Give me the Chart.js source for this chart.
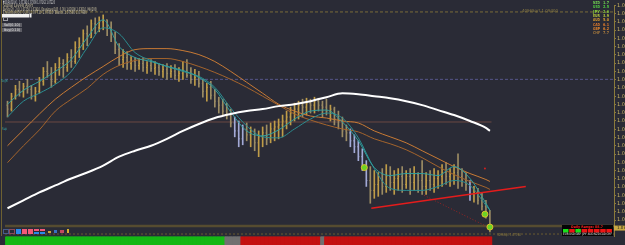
<!DOCTYPE html>
<html>
<head>
<meta charset="utf-8">
<script src="https://cdn.jsdelivr.net/npm/chart.js@4.4.0/dist/chart.umd.min.js"></script>
<style>
html,body{margin:0;padding:0;background:#2a2b36;}
canvas{display:block;}
</style>
</head>
<body>
<canvas id="myChart" width="625" height="245"></canvas>
<script>

// price bars (H1), one entry per bar
var highs = [
  1.0850,1.0858,1.0866,1.0870,1.0868,1.0872,1.0866,1.0864,1.0874,1.0884,
  1.0890,1.0884,1.0888,1.0894,1.0892,1.0898,1.0902,1.0910,1.0914,1.0922,
  1.0926,1.0932,1.0934,1.0935,1.0937,1.0932,1.0930,1.0920,1.0908,1.0902,
  1.0900,1.0895,1.0894,1.0893,1.0894,1.0890,1.0892,1.0890,1.0888,1.0887,
  1.0888,1.0886,1.0887,1.0884,1.0890,1.0892,1.0884,1.0882,1.0880,1.0872,
  1.0868,1.0870,1.0862,1.0854,1.0852,1.0848,1.0842,1.0834,1.0830,1.0826,
  1.0828,1.0824,1.0822,1.0820,1.0824,1.0826,1.0828,1.0830,1.0832,1.0836,
  1.0840,1.0844,1.0848,1.0850,1.0852,1.0853,1.0852,1.0854,1.0853,1.0850,
  1.0852,1.0846,1.0844,1.0840,1.0834,1.0826,1.0822,1.0816,1.0810,1.0802,
  1.0790,1.0784,1.0780,1.0778,1.0782,1.0786,1.0784,1.0780,1.0782,1.0784,
  1.0780,1.0782,1.0784,1.0778,1.0790,1.0778,1.0780,1.0782,1.0780,1.0786,
  1.0788,1.0782,1.0786,1.0797,1.0782,1.0778,1.0770,1.0764,1.0762,1.0758,
  1.0750,1.0740
];
var lows = [
  1.0834,1.0840,1.0852,1.0855,1.0854,1.0858,1.0852,1.0850,1.0858,1.0866,
  1.0874,1.0864,1.0868,1.0876,1.0874,1.0880,1.0884,1.0888,1.0894,1.0902,
  1.0906,1.0914,1.0918,1.0920,1.0922,1.0916,1.0910,1.0898,1.0886,1.0884,
  1.0882,1.0882,1.0880,1.0882,1.0880,1.0878,1.0880,1.0877,1.0876,1.0874,
  1.0872,1.0874,1.0872,1.0870,1.0872,1.0874,1.0868,1.0866,1.0864,1.0854,
  1.0850,1.0852,1.0844,1.0838,1.0836,1.0832,1.0824,1.0814,1.0804,1.0806,
  1.0810,1.0804,1.0800,1.0794,1.0804,1.0806,1.0808,1.0810,1.0812,1.0814,
  1.0822,1.0826,1.0830,1.0832,1.0834,1.0836,1.0838,1.0838,1.0840,1.0834,
  1.0836,1.0830,1.0826,1.0822,1.0814,1.0810,1.0804,1.0798,1.0790,1.0780,
  1.0764,1.0747,1.0752,1.0754,1.0756,1.0758,1.0760,1.0756,1.0760,1.0758,
  1.0762,1.0756,1.0760,1.0758,1.0756,1.0756,1.0760,1.0758,1.0762,1.0764,
  1.0766,1.0764,1.0766,1.0762,1.0764,1.0760,1.0750,1.0748,1.0746,1.0740,
  1.0732,1.0718
];
var closes = [
  1.0842,1.0855,1.0862,1.0860,1.0865,1.0862,1.0855,1.0860,1.0870,1.0880,
  1.0878,1.0870,1.0884,1.0888,1.0884,1.0894,1.0890,1.0904,1.0908,1.0918,
  1.0914,1.0928,1.0924,1.0930,1.0932,1.0924,1.0914,1.0902,1.0892,1.0894,
  1.0888,1.0890,1.0886,1.0888,1.0884,1.0886,1.0883,1.0884,1.0880,1.0882,
  1.0878,1.0880,1.0876,1.0878,1.0880,1.0876,1.0872,1.0874,1.0868,1.0860,
  1.0864,1.0856,1.0850,1.0846,1.0840,1.0836,1.0828,1.0820,1.0812,1.0822,
  1.0816,1.0820,1.0808,1.0814,1.0818,1.0812,1.0822,1.0824,1.0826,1.0830,
  1.0834,1.0838,1.0842,1.0846,1.0844,1.0848,1.0846,1.0850,1.0846,1.0844,
  1.0840,1.0842,1.0832,1.0830,1.0820,1.0818,1.0810,1.0804,1.0794,1.0784,
  1.0770,1.0760,1.0766,1.0770,1.0764,1.0774,1.0768,1.0772,1.0774,1.0766,
  1.0774,1.0768,1.0776,1.0770,1.0764,1.0770,1.0766,1.0772,1.0774,1.0778,
  1.0774,1.0776,1.0778,1.0774,1.0770,1.0766,1.0756,1.0758,1.0750,1.0744,
  1.0736,1.0722
];
var firstOpen = 1.0846;
var blueBars = [57,58,59,86,87,88,89,90,116];

// indicator lines, read at every 4th bar
var sampleBars = [0,4,8,12,16,20,24,28,32,36,40,44,48,52,56,60,64,68,72,76,80,84,88,92,96,100,104,108,112,116,120,121];
var ma200 = [1.0742,1.0750,1.0758,1.0765,1.0772,1.0778,1.0785,1.0794,1.0800,1.0805,1.0812,1.0820,1.0827,1.0833,1.0837,1.0840,
             1.0842,1.0845,1.0847,1.0850,1.0854,1.0858,1.0857,1.0855,1.0853,1.0850,1.0846,1.0841,1.0836,1.0830,1.0823,1.0820];
var envUpper = [1.0805,1.0821,1.0837,1.0852,1.0864,1.0875,1.0885,1.0895,1.0902,1.0903,1.0903,1.0901,1.0897,1.0890,1.0880,1.0869,
                1.0858,1.0847,1.0840,1.0835,1.0833,1.0830,1.0828,1.0820,1.0814,1.0808,1.0800,1.0792,1.0784,1.0777,1.0771,1.0769];
var envLower = [1.0788,1.0805,1.0821,1.0840,1.0852,1.0863,1.0877,1.0886,1.0891,1.0893,1.0893,1.0890,1.0885,1.0879,1.0872,1.0864,
                1.0855,1.0846,1.0837,1.0831,1.0826,1.0822,1.0819,1.0812,1.0807,1.0801,1.0793,1.0784,1.0776,1.0769,1.0763,1.0761];
var tealFast = [1.0847,1.0861,1.0870,1.0880,1.0892,1.0914,1.0932,1.0905,1.0894,1.0890,1.0885,1.0881,1.0874,1.0862,1.0839,1.0820,
                1.0815,1.0821,1.0832,1.0840,1.0841,1.0829,1.0810,1.0783,1.0775,1.0777,1.0777,1.0775,1.0784,1.0772,1.0747,1.0740];
var tealSlow = [1.0834,1.0850,1.0858,1.0867,1.0880,1.0904,1.0924,1.0918,1.0899,1.0891,1.0885,1.0880,1.0875,1.0864,1.0843,1.0825,
                1.0814,1.0813,1.0822,1.0832,1.0838,1.0833,1.0813,1.0782,1.0762,1.0760,1.0760,1.0764,1.0770,1.0765,1.0745,1.0740];

// horizontal levels and drawn objects
var levelTop = 1.0940, levelPivot = 1.0872, levelMid = 1.0829, levelLow = 1.0724, levelBottom = 1.0716;
var trendBars = [91.25, 130];
var trendPrices = [1.0742, 1.0764];
var dotBars = [104.5, 120.5];
var dotPrices = [1.0755, 1.0723];
var signalBars = [89.5, 119.75, 121];
var signalPrices = [1.0783, 1.0736, 1.0723];

// trend strip under the chart: 1 up, 0 flat, -1 down
var stripState = [
  1,1,1,1,1,1,1,1,1,1, 1,1,1,1,1,1,1,1,1,1, 1,1,1,1,1,1,1,1,1,1,
  1,1,1,1,1,1,1,1,1,1, 1,1,1,1,1,1,1,1,1,1, 1,1,1,1,1,
  0,0,0,0,
  -1,-1,-1,-1,-1,-1,-1,-1,-1,-1, -1,-1,-1,-1,-1,-1,-1,-1,-1,-1,
  0,
  -1,-1,-1,-1,-1,-1,-1,-1,-1,-1, -1,-1,-1,-1,-1,-1,-1,-1,-1,-1,
  -1,-1,-1,-1,-1,-1,-1,-1,-1,-1, -1,-1,-1,-1,-1,-1,-1,-1,-1,-1, -1,-1
];

var tickValues = [1.09466,1.09383,1.09300,1.09216,1.09133,1.09050,1.08966,1.08883,1.08800,1.08716,
                  1.08633,1.08550,1.08466,1.08383,1.08300,1.08216,1.08133,1.08050,1.07966,1.07883,
                  1.07800,1.07716,1.07633,1.07550,1.07466,1.07383,1.07300,1.07216];

var strengthNames = ["NZD","USD","JPY","EUR","AUD","CAD","GBP","CHF"];
var strengthValues = [1.7, 2.5, 2.6, 3.9, 5.0, 6.1, 6.2, 7.7];
var strengthColors = ["#6fcf52","#52d040","#8ccf3c","#b4c43a","#d79a30","#e07a2a","#e0832c","#a87a3c"];
var cellNames = ["EUR","USD","GBP","JPY","AUD","NZD","CAD","CHF"];
var cellUp = [1,0,1,0,0,0,0,0];

var opens = [firstOpen].concat(closes.slice(0, -1));
var barColors = closes.map(function(c, i){
  if (blueBars.indexOf(i) >= 0) return "#a3aad6";
  return c >= opens[i] ? "#bf9c48" : "#9c8c64";
});

function pts(xs, ys){ return xs.map(function(x, k){ return {x: x, y: ys[k]}; }); }
function flatLine(v, x0, x1){ return [{x: x0, y: v}, {x: x1, y: v}]; }

var XMIN = -0.625, XMAX = 152.125;

function lineDs(data, color, width, order, dash){
  return {type: "line", data: data, borderColor: color, borderWidth: width, pointRadius: 0,
          cubicInterpolationMode: "monotone", borderDash: dash || [], order: order, yAxisID: "y"};
}

var decor = {
  id: "decor",
  beforeDraw: function(chart){
    var ctx = chart.ctx;
    ctx.save();
    ctx.fillStyle = "#2a2b36";
    ctx.fillRect(0, 0, chart.width, chart.height);
    ctx.restore();
  },
  afterDraw: function(chart){
    var ctx = chart.ctx, ys = chart.scales.y;
    ctx.save();
    // left border
    ctx.strokeStyle = "#6e6132";
    ctx.lineWidth = 1;
    ctx.beginPath(); ctx.moveTo(1.5, 0); ctx.lineTo(1.5, 236); ctx.stroke();

    ctx.textBaseline = "middle";
    // header text
    ctx.font = "5px 'DejaVu Sans'";
    ctx.fillStyle = "#d8d8d8";
    ctx.fillText("\u25bc EURUSD,H1  1.07290 1.07308 1.07162 1.07220", 3, 2.5, 52);
    ctx.fillStyle = "#cfc6a4";
    ctx.fillText("Signal Levels Alert", 3, 6, 30);
    ctx.fillText("Bands(20, 2.0) 1.07750 1.07410  Envelopes(100, 0.30) 1.07690 1.07610  MA(200)", 3, 9.5, 94);
    ctx.fillText("Envelopes(50, 0.20) 1.07710 1.07410  Bands 1.07580 1.07440", 3, 13, 84);

    // trade box and buttons
    ctx.fillStyle = "#f2f2f2";
    ctx.fillRect(2, 14, 27, 3.5);
    ctx.fillRect(29.5, 13.5, 2, 4);
    ctx.strokeStyle = "#9a9aa0";
    ctx.strokeRect(3.5, 17.5, 4, 3);
    ctx.fillStyle = "#5c5c64";
    ctx.fillRect(2, 23, 20, 4);
    ctx.fillRect(2, 28, 20, 4);
    ctx.fillStyle = "#e8e8e8";
    ctx.font = "3.5px 'DejaVu Sans'";
    ctx.textAlign = "center";
    ctx.fillText("Sell(0.10)", 12, 25, 16);
    ctx.fillText("Buy(0.10)", 12, 30, 16);
    ctx.textAlign = "left";

    // currency strength list
    ctx.font = "bold 4px 'DejaVu Sans'";
    strengthNames.forEach(function(n, k){
      var y = 3 + k * 4.3;
      ctx.fillStyle = strengthColors[k];
      ctx.fillText(n, 593, y, 7);
      ctx.fillText(strengthValues[k].toFixed(1), 603, y, 6);
    });

    // level captions
    ctx.font = "4px 'DejaVu Sans'";
    ctx.fillStyle = "#8c7c44";
    ctx.fillText("4096Sqrt 1.09400", 522, ys.getPixelForValue(levelTop) - 0.5, 36);
    ctx.fillText("4096Sqrt 1.07160", 497, ys.getPixelForValue(levelBottom) + 0.5, 24);
    ctx.fillStyle = "#3aa3a3";
    ctx.fillText("Target", 1, ys.getPixelForValue(levelPivot) + 2, 7);
    ctx.fillText("Sup", 2, ys.getPixelForValue(levelMid) + 7, 5);

    // tool icons
    ctx.lineWidth = 1;
    ctx.strokeStyle = "#4a5a8a"; ctx.strokeRect(3.5, 229.5, 5, 4);
    ctx.strokeStyle = "#8a4a5a"; ctx.strokeRect(9.5, 229.5, 5, 4);
    ctx.fillStyle = "#2a8ae8"; ctx.fillRect(16, 229, 5, 5);
    ctx.fillStyle = "#f25a78"; ctx.fillRect(22, 229, 5, 5); ctx.fillRect(28, 229, 5, 5);
    ctx.fillRect(34, 229, 5, 2); ctx.fillRect(40, 229, 5, 2);
    ctx.fillStyle = "#2a8ae8"; ctx.fillRect(34, 232, 5, 2); ctx.fillRect(40, 232, 5, 2);
    ctx.fillStyle = "#c8a040"; ctx.fillRect(48, 231, 3, 2);
    ctx.fillStyle = "#3a70c0"; ctx.fillRect(54, 230, 3, 3);
    ctx.fillStyle = "#c04a60"; ctx.fillRect(60, 230, 4, 3);
    ctx.fillStyle = "#d8b030"; ctx.fillRect(67, 229, 2, 4);

    // bottom-right currency panel
    ctx.fillStyle = "#050505";
    ctx.fillRect(562, 225, 51, 11);
    ctx.fillStyle = "#ff2020";
    ctx.font = "bold 3.5px 'DejaVu Sans'";
    ctx.textAlign = "center";
    ctx.fillText("Daily Range: 88.7", 587, 227, 32);
    cellNames.forEach(function(n, k){
      var x = 563 + k * 6.2;
      ctx.fillStyle = cellUp[k] ? "#18e018" : "#ee1414";
      ctx.fillRect(x, 229, 5.5, 3.5);
      ctx.fillStyle = "#e6e6e6";
      ctx.font = "3px 'DejaVu Sans'";
      ctx.fillText(n, x + 2.8, 234.5, 5.5);
    });
    ctx.textAlign = "left";

    // current price tag on the axis
    var py = ys.getPixelForValue(closes[closes.length - 1]);
    ctx.fillStyle = "#c8a844";
    ctx.fillRect(614, py - 2.5, 11, 5);
    ctx.fillStyle = "#1c1c1c";
    ctx.font = "4.5px 'DejaVu Sans'";
    ctx.fillText(closes[closes.length - 1].toFixed(5), 617, py, 16);
    ctx.restore();
  }
};

new Chart("myChart", {
  type: "bar",
  data: {
    datasets: [
      {type: "line", data: pts(signalBars, signalPrices), showLine: false, pointRadius: 3,
       pointBackgroundColor: "#6cd424", pointBorderColor: "#d9c22a", pointBorderWidth: 1, order: 0, yAxisID: "y"},
      {type: "line", data: [{x: 119.75, y: 1.0782}], showLine: false, pointRadius: 1,
       pointBackgroundColor: "#d02020", pointBorderWidth: 0, order: 0, yAxisID: "y"},
      lineDs(pts(trendBars, trendPrices), "#e41c1c", 1.5, 1),
      lineDs(pts(dotBars, dotPrices), "#9a2424", 1, 1, [1, 2]),
      lineDs(pts(sampleBars, ma200), "#ffffff", 2, 2),
      lineDs(pts(sampleBars, tealFast), "#2f9e9e", 1, 3),
      lineDs(pts(sampleBars, tealSlow), "#2a8c90", 1, 3),
      lineDs(pts(sampleBars, envUpper), "#c87a34", 1, 4),
      lineDs(pts(sampleBars, envLower), "#a4642c", 1, 4),
      {type: "line", data: closes.map(function(c, i){ return {x: i, y: c}; }), showLine: false,
       pointStyle: "dash", pointRotation: 0, pointRadius: 1, pointBorderWidth: 1,
       pointBorderColor: barColors, order: 5, yAxisID: "y"},
      {type: "line", data: opens.map(function(o, i){ return {x: i, y: o}; }), showLine: false,
       pointStyle: "dash", pointRotation: 180, pointRadius: 1, pointBorderWidth: 1,
       pointBorderColor: barColors, order: 5, yAxisID: "y"},
      {type: "bar", data: highs.map(function(h, i){ return {x: i, y: [lows[i], h]}; }),
       backgroundColor: barColors, barThickness: 1, grouped: false, order: 6, yAxisID: "y"},
      lineDs(flatLine(levelTop, XMIN, XMAX), "#7a6c3a", 1, 7, [3, 2]),
      lineDs(flatLine(levelPivot, XMIN, XMAX), "#55558a", 1, 7, [3, 2]),
      lineDs(flatLine(levelMid, XMIN, 121.4), "#6c4842", 1, 7),
      lineDs(flatLine(levelLow, XMIN, XMAX), "#564c30", 2.5, 7),
      lineDs(flatLine(levelBottom, XMIN, XMAX), "#6a5c30", 1, 7, [2, 2]),
      {type: "bar", data: stripState.map(function(s, i){ return {x: i, y: [0, 1]}; }),
       backgroundColor: stripState.map(function(s){ return s > 0 ? "#14b814" : (s < 0 ? "#c41010" : "#707070"); }),
       barPercentage: 1, categoryPercentage: 1, grouped: false, clip: false, order: 8, yAxisID: "ys"},
      {type: "bar", data: stripState.map(function(s, i){ return {x: i, y: [0, 1]}; }),
       backgroundColor: stripState.map(function(s){ return s > 0 ? "#22ee22" : (s < 0 ? "#f01616" : "#9a9a9a"); }),
       barThickness: 3, grouped: false, clip: false, order: 8, yAxisID: "ys"}
    ]
  },
  options: {
    responsive: false,
    animation: false,
    events: [],
    layout: {padding: {left: 3, top: 3, right: 0, bottom: 9}},
    plugins: {legend: {display: false}, tooltip: {enabled: false}},
    scales: {
      x: {type: "linear", min: XMIN, max: XMAX, offset: false, display: false},
      ys: {type: "linear", min: 1.125, max: 30.25, display: false},
      y: {
        type: "linear", position: "right", min: 1.0714, max: 1.0947,
        afterBuildTicks: function(scale){ scale.ticks = tickValues.map(function(v){ return {value: v}; }); },
        afterFit: function(scale){ scale.width = 11; },
        border: {color: "#8a7a3c", width: 1},
        grid: {drawOnChartArea: false, color: "#8a7a3c", tickLength: 2},
        ticks: {autoSkip: false, padding: 1, color: "#c8b464",
                font: {size: 5, family: "DejaVu Sans"},
                callback: function(v){ return Number(v).toFixed(5); }}
      }
    }
  },
  plugins: [decor]
});
</script>
</body>
</html>
